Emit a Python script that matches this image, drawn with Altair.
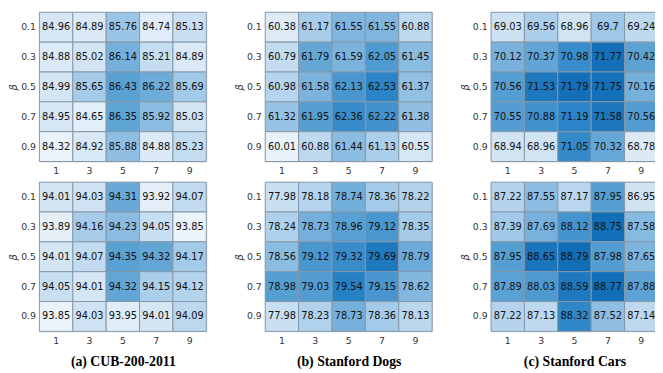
import altair as alt
import pandas as pd

# ---- data ----
kernel_sizes = [1, 3, 5, 7, 9]
betas = ["0.1", "0.3", "0.5", "0.7", "0.9"]

cub_top = [[84.96, 84.89, 85.76, 84.74, 85.13],
           [84.88, 85.02, 86.14, 85.21, 84.89],
           [84.99, 85.65, 86.43, 86.22, 85.69],
           [84.95, 84.65, 86.35, 85.92, 85.03],
           [84.32, 84.92, 85.88, 84.88, 85.23]]
dogs_top = [[60.38, 61.17, 61.55, 61.55, 60.88],
            [60.79, 61.79, 61.59, 62.05, 61.45],
            [60.98, 61.58, 62.13, 62.53, 61.37],
            [61.32, 61.95, 62.36, 62.22, 61.38],
            [60.01, 60.88, 61.44, 61.13, 60.55]]
cars_top = [[69.03, 69.56, 68.96, 69.7, 69.24],
            [70.12, 70.37, 70.98, 71.77, 70.42],
            [70.56, 71.53, 71.79, 71.75, 70.16],
            [70.55, 70.88, 71.19, 71.58, 70.56],
            [68.94, 68.96, 71.05, 70.32, 68.78]]
cub_bot = [[94.01, 94.03, 94.31, 93.92, 94.07],
           [93.89, 94.16, 94.23, 94.05, 93.85],
           [94.01, 94.07, 94.35, 94.32, 94.17],
           [94.05, 94.01, 94.32, 94.15, 94.12],
           [93.85, 94.03, 93.95, 94.01, 94.09]]
dogs_bot = [[77.98, 78.18, 78.74, 78.36, 78.22],
            [78.24, 78.73, 78.96, 79.12, 78.35],
            [78.56, 79.12, 79.32, 79.69, 78.79],
            [78.98, 79.03, 79.54, 79.15, 78.62],
            [77.98, 78.23, 78.73, 78.36, 78.13]]
cars_bot = [[87.22, 87.55, 87.17, 87.95, 86.95],
            [87.39, 87.69, 88.12, 88.75, 87.58],
            [87.95, 88.65, 88.79, 87.98, 87.65],
            [87.89, 88.03, 88.59, 88.77, 87.88],
            [87.22, 87.13, 88.32, 87.52, 87.14]]

captions = ["(a) CUB-200-2011", "(b) Stanford Dogs", "(c) Stanford Cars"]

# colour-scale extents per panel
extents = {
    "cub_top": (84.13, 87.83), "cub_bot": (93.806, 94.68),
    "dogs_top": (59.77, 63.22), "dogs_bot": (77.18, 80.03),
    "cars_top": (67.98, 71.99), "cars_bot": (86.30, 88.89),
}

ramp_stops = [0.0, 0.2, 0.4, 0.6, 0.8, 1.0]
ramp_colors = ["#f0f6fc", "#dceaf6", "#a9cdea", "#5ea4d5", "#2a84c7", "#0868b2"]

W, H = 170, 152


def make_df(grid, key):
    rows = []
    for i, b in enumerate(betas):
        for j, k in enumerate(kernel_sizes):
            v = grid[i][j]
            rows.append({"k": str(k), "beta": b, key: v, "lbl": str(v)})
    return pd.DataFrame(rows)


def heat(grid, key, caption=None):
    df = make_df(grid, key)
    lo, hi = extents[key]
    dom = [lo + (hi - lo) * t for t in ramp_stops]
    xaxis_kw = dict(labelAngle=0, ticks=False, domain=False, labelPadding=4,
                    labelFontSize=9.5, labelFont="DejaVu Sans", labelColor="#333333")
    if caption:
        xaxis_kw.update(titleFont="Liberation Serif", titleFontWeight="bold",
                        titleFontSize=14, titleColor="black", titlePadding=10)
    x = alt.X("k:O", sort=[str(k) for k in kernel_sizes],
              title=caption if caption else None, axis=alt.Axis(**xaxis_kw))
    y = alt.Y("beta:O", sort=betas, title="β",
              axis=alt.Axis(ticks=False, domain=False, labelPadding=4, labelFontSize=9.5,
                            labelFont="DejaVu Sans", labelColor="#333333",
                            titleFont="DejaVu Sans", titleFontStyle="italic",
                            titleFontWeight="normal", titleFontSize=10,
                            titleColor="#333333", titlePadding=2))
    base = alt.Chart(df)
    rect = base.mark_rect(stroke="#8597a8", strokeWidth=1).encode(
        x=x, y=y,
        color=alt.Color(f"{key}:Q", scale=alt.Scale(domain=dom, range=ramp_colors), legend=None),
    )
    text = base.mark_text(fontSize=10, font="DejaVu Sans", color="#111111").encode(
        x=x, y=y, text="lbl:N")
    return alt.layer(rect, text).properties(width=W, height=H)


def column(top, bot):
    return alt.vconcat(top, bot, spacing=6).resolve_scale(color="independent")


col_a = column(heat(cub_top, "cub_top"), heat(cub_bot, "cub_bot", captions[0]))
col_b = column(heat(dogs_top, "dogs_top"), heat(dogs_bot, "dogs_bot", captions[1]))
col_c = column(heat(cars_top, "cars_top"), heat(cars_bot, "cars_bot", captions[2]))

chart = alt.hconcat(col_a, col_b, col_c, spacing=27).resolve_scale(color="independent").properties(
    padding={"left": 0, "top": 0, "right": -4, "bottom": 0}
).configure_view(strokeWidth=0).configure(background="white")

chart.save("out.html", embed_options={"renderer": "svg", "actions": False})
